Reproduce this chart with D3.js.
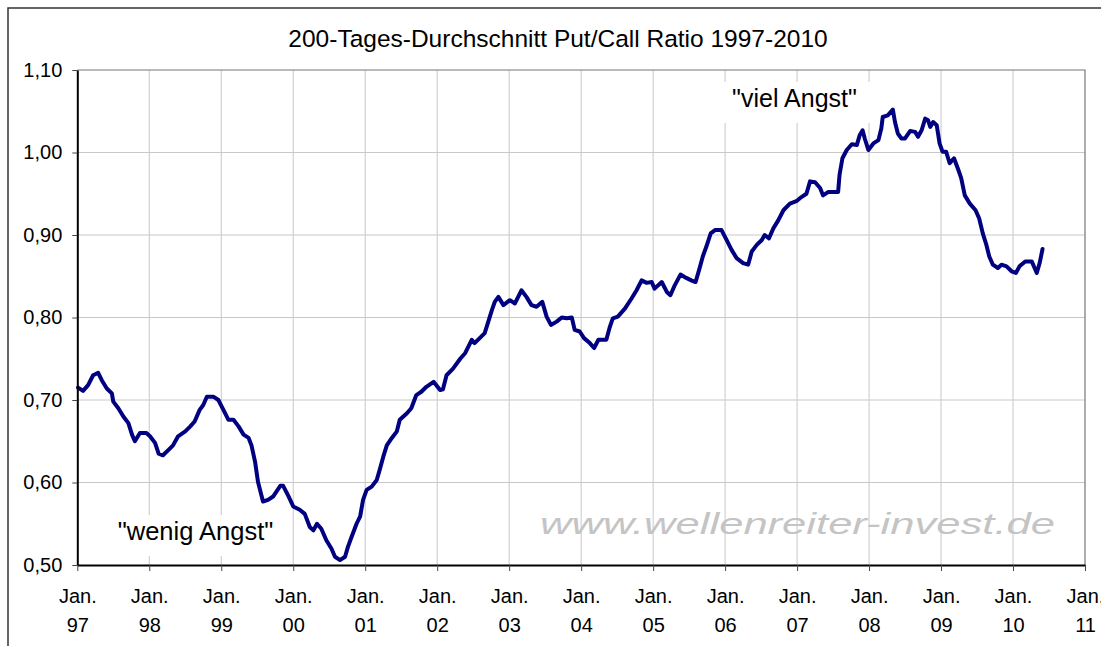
<!DOCTYPE html>
<html>
<head>
<meta charset="utf-8">
<script src="https://cdn.jsdelivr.net/npm/d3@7"></script>
<style>
  body { margin: 0; background: #fff; }
  text { font-family: "Liberation Sans", Arial, sans-serif; }
</style>
</head>
<body>
<svg id="chart"></svg>
<script>
// Datenpunkte: Jahr (dezimal) und 200-Tage-Durchschnitt der Put/Call Ratio
var dates = [
  1997.01,1997.08,1997.15,1997.22,1997.29,1997.34,1997.41,1997.48,1997.50,1997.57,1997.64,1997.71,1997.76,1997.80,1997.87,1997.96,
  1998.01,1998.08,1998.13,1998.19,1998.26,1998.33,1998.40,1998.50,1998.57,1998.63,1998.70,1998.75,1998.80,1998.89,1998.96,
  1999.03,1999.10,1999.17,1999.24,1999.31,1999.38,1999.42,1999.47,1999.51,1999.58,1999.65,1999.72,1999.82,1999.86,1999.93,
  2000.00,2000.09,2000.16,2000.23,2000.28,2000.33,2000.39,2000.46,2000.53,2000.58,2000.65,2000.72,2000.76,2000.81,2000.88,2000.93,2000.97,
  2001.02,2001.09,2001.16,2001.20,2001.25,2001.30,2001.37,2001.44,2001.48,2001.58,2001.64,2001.71,2001.78,2001.85,2001.95,
  2002.04,2002.08,2002.13,2002.22,2002.32,2002.39,2002.48,2002.52,2002.59,2002.66,2002.71,2002.76,2002.80,2002.85,2002.92,
  2003.01,2003.08,2003.17,2003.24,2003.31,2003.38,2003.46,2003.52,2003.58,2003.66,2003.73,2003.80,2003.87,2003.91,2003.98,
  2004.04,2004.12,2004.18,2004.24,2004.30,2004.35,2004.40,2004.44,2004.51,2004.61,2004.70,2004.77,2004.84,2004.91,2004.98,
  2005.02,2005.12,2005.19,2005.24,2005.30,2005.38,2005.46,2005.53,2005.59,2005.64,2005.69,2005.74,2005.80,2005.86,2005.95,
  2006.02,2006.09,2006.16,2006.25,2006.32,2006.37,2006.44,2006.51,2006.55,2006.61,2006.67,2006.74,2006.81,2006.90,2006.99,
  2007.06,2007.13,2007.18,2007.25,2007.32,2007.36,2007.43,2007.50,2007.57,2007.59,2007.63,2007.69,2007.76,2007.83,2007.87,2007.91,2007.94,2007.99,
  2008.06,2008.13,2008.17,2008.19,2008.26,2008.33,2008.36,2008.40,2008.45,2008.50,2008.57,2008.64,2008.68,2008.73,2008.78,2008.82,2008.85,2008.89,2008.94,2008.98,
  2009.02,2009.07,2009.12,2009.18,2009.24,2009.28,2009.33,2009.40,2009.48,2009.53,2009.58,2009.63,2009.67,2009.72,2009.79,2009.84,2009.91,2009.98,
  2010.04,2010.09,2010.17,2010.26,2010.33,2010.37,2010.41
];

var ratio = [
  0.715,0.711,0.718,0.730,0.733,0.724,0.714,0.708,0.698,0.690,0.680,0.672,0.658,0.650,0.660,0.660,
  0.656,0.648,0.635,0.633,0.639,0.645,0.656,0.662,0.668,0.674,0.688,0.694,0.704,0.704,0.700,
  0.688,0.676,0.676,0.668,0.658,0.654,0.645,0.625,0.601,0.577,0.579,0.583,0.596,0.596,0.584,
  0.571,0.567,0.562,0.546,0.542,0.550,0.544,0.530,0.520,0.510,0.506,0.510,0.522,0.534,0.550,0.559,0.579,
  0.591,0.595,0.603,0.615,0.631,0.645,0.654,0.662,0.676,0.684,0.690,0.706,0.710,0.716,0.722,
  0.712,0.713,0.730,0.738,0.750,0.757,0.773,0.769,0.775,0.781,0.795,0.809,0.819,0.825,0.815,
  0.821,0.817,0.833,0.825,0.815,0.813,0.819,0.801,0.791,0.795,0.800,0.799,0.800,0.785,0.783,
  0.775,0.769,0.763,0.773,0.773,0.773,0.789,0.799,0.801,0.811,0.823,0.833,0.845,0.842,0.843,
  0.835,0.843,0.831,0.827,0.839,0.852,0.848,0.845,0.843,0.858,0.874,0.886,0.902,0.906,0.906,
  0.894,0.882,0.872,0.866,0.864,0.880,0.888,0.894,0.900,0.896,0.908,0.918,0.930,0.938,0.941,
  0.946,0.950,0.965,0.964,0.957,0.948,0.952,0.952,0.952,0.973,0.993,1.003,1.010,1.009,1.021,1.027,1.017,1.003,
  1.011,1.015,1.029,1.043,1.045,1.052,1.037,1.023,1.017,1.017,1.026,1.025,1.019,1.027,1.041,1.039,1.031,1.037,1.033,1.011,
  1.001,1.001,0.987,0.993,0.979,0.969,0.948,0.938,0.930,0.920,0.902,0.888,0.874,0.864,0.860,0.864,0.862,0.856,
  0.854,0.862,0.868,0.868,0.854,0.866,0.883
];

var yTicks = [0.5, 0.6, 0.7, 0.8, 0.9, 1.0, 1.1];
var xTicks = [1997,1998,1999,2000,2001,2002,2003,2004,2005,2006,2007,2008,2009,2010,2011];
var xLabels = ["97","98","99","00","01","02","03","04","05","06","07","08","09","10","11"];

var title = "200-Tages-Durchschnitt Put/Call Ratio 1997-2010";
var noteLow = "\"wenig Angst\"";
var noteHigh = "\"viel Angst\"";
var watermark = "www.wellenreiter-invest.de";

var w = 1101, h = 646;
// Plotbereich (top ist in Browsern reserviert, daher eigene Namen)
var pLeft = 77.3, pRight = 1085, pTop = 70, pBottom = 565;

var svg = d3.select("#chart").attr("width", w).attr("height", h);

svg.append("rect").attr("width", w).attr("height", h).attr("fill", "#fff");

// Rahmen des Diagrammbereichs
svg.append("rect")
   .attr("x", 8).attr("y", 8)
   .attr("width", 1300).attr("height", 900)
   .attr("fill", "none")
   .attr("stroke", "#333")
   .attr("stroke-width", 1.5);

var x = d3.scaleLinear().domain([1997, 2011]).range([pLeft, pRight]);
var y = d3.scaleLinear().domain([0.5, 1.1]).range([pBottom, pTop]);

var de = d3.formatLocale({decimal: ",", thousands: ".", grouping: [3], currency: ["", " €"]});
var fmt = de.format(".2f");

// Gitternetz
svg.append("g")
   .selectAll("line")
   .data(xTicks.slice(1, -1))
   .enter()
   .append("line")
   .attr("x1", d => x(d)).attr("x2", d => x(d))
   .attr("y1", pTop).attr("y2", pBottom)
   .attr("stroke", "#c8c8c8")
   .attr("stroke-width", 1);

svg.append("g")
   .selectAll("line")
   .data(yTicks.slice(1, -1))
   .enter()
   .append("line")
   .attr("x1", pLeft).attr("x2", pRight)
   .attr("y1", d => y(d)).attr("y2", d => y(d))
   .attr("stroke", "#c8c8c8")
   .attr("stroke-width", 1);

// Plotbereich-Rahmen oben/rechts
svg.append("path")
   .attr("d", "M" + pLeft + "," + pTop + "H" + pRight + "V" + pBottom)
   .attr("fill", "none")
   .attr("stroke", "#777")
   .attr("stroke-width", 1.2);

// Wasserzeichen
svg.append("text")
   .attr("x", 540).attr("y", 534)
   .attr("font-size", 30)
   .attr("font-style", "italic")
   .attr("fill", "#c4c4c4")
   .attr("textLength", 515)
   .attr("lengthAdjust", "spacingAndGlyphs")
   .text(watermark);

// Beschriftungen mit weißem Hintergrund
svg.append("rect").attr("x", 106).attr("y", 515).attr("width", 180).attr("height", 41).attr("fill", "#fff");
svg.append("rect").attr("x", 716).attr("y", 82).attr("width", 160).attr("height", 41).attr("fill", "#fff");

svg.append("text")
   .attr("x", 195.5).attr("y", 540)
   .attr("text-anchor", "middle")
   .attr("font-size", 25.5)
   .text(noteLow);

svg.append("text")
   .attr("x", 794.5).attr("y", 107)
   .attr("text-anchor", "middle")
   .attr("font-size", 25)
   .text(noteHigh);

// Linie
var line = d3.line()
  .x((d, i) => x(dates[i]))
  .y(d => y(d));

svg.append("path")
   .datum(ratio)
   .attr("d", line)
   .attr("fill", "none")
   .attr("stroke", "#000080")
   .attr("stroke-width", 4)
   .attr("stroke-linejoin", "round")
   .attr("stroke-linecap", "round");

// Achsen
var yAxis = svg.append("g")
   .attr("transform", "translate(" + pLeft + ",0)")
   .call(d3.axisLeft(y).tickValues(yTicks).tickFormat(fmt).tickSize(5).tickSizeOuter(0).tickPadding(10));

yAxis.selectAll("text").attr("font-size", 20).attr("fill", "#000").attr("font-family", null);
yAxis.selectAll(".tick line").attr("stroke", "#444");
yAxis.select(".domain").attr("stroke", "#000").attr("stroke-width", 2);

var xAxis = svg.append("g")
   .attr("transform", "translate(0," + pBottom + ")")
   .call(d3.axisBottom(x).tickValues(xTicks).tickSize(6).tickSizeOuter(0));

xAxis.selectAll(".tick line").attr("stroke", "#444");
xAxis.select(".domain").attr("stroke", "#000").attr("stroke-width", 2);
xAxis.selectAll("text")
   .attr("font-size", 20).attr("fill", "#000").attr("font-family", null)
   .attr("dy", null)
   .each(function(d, i) {
     var t = d3.select(this);
     t.text(null);
     t.append("tspan").attr("x", 0).attr("y", 38).text("Jan.");
     t.append("tspan").attr("x", 0).attr("y", 67).text(xLabels[i]);
   });

// Titel
svg.append("text")
   .attr("x", 558).attr("y", 47)
   .attr("text-anchor", "middle")
   .attr("font-size", 24.5)
   .text(title);
</script>
</body>
</html>
